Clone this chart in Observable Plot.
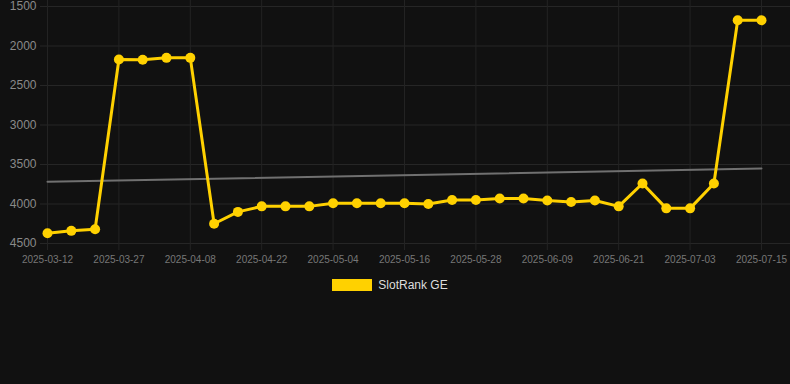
<!DOCTYPE html>
<html>
<head>
<meta charset="utf-8">
<script src="https://cdn.jsdelivr.net/npm/d3@7"></script>
<script src="https://cdn.jsdelivr.net/npm/@observablehq/plot@0.6"></script>
<style>
  html, body { margin: 0; padding: 0; background: #111111; width: 790px; height: 384px; overflow: hidden; }
  body { font-family: "Liberation Sans", Arial, sans-serif; }
  #chart svg { display: block; overflow: visible; }
  #legend { display: flex; justify-content: center; align-items: center; gap: 6px; margin-top: 8px; padding-right: 10px; color: #dddddd; font-size: 12px; }
  #legend .sw { width: 40px; height: 12px; background: #FFD100; display: inline-block; }
</style>
</head>
<body>
<div id="chart"></div>
<div id="legend"><span class="sw"></span><span>SlotRank GE</span></div>
<script>
const dates = [
  "2025-03-12","2025-03-17","2025-03-22","2025-03-27","2025-03-31","2025-04-04","2025-04-08",
  "2025-04-13","2025-04-17","2025-04-22","2025-04-26","2025-04-30","2025-05-04","2025-05-08",
  "2025-05-12","2025-05-16","2025-05-20","2025-05-24","2025-05-28","2025-06-01","2025-06-05",
  "2025-06-09","2025-06-13","2025-06-17","2025-06-21","2025-06-25","2025-06-29","2025-07-03",
  "2025-07-07","2025-07-11","2025-07-15"
];
const ranks = [
  4370, 4340, 4320, 2170, 2175, 2150, 2150,
  4250, 4100, 4030, 4030, 4030, 3990, 3990,
  3990, 3990, 4000, 3950, 3950, 3930, 3930,
  3955, 3975, 3955, 4030, 3740, 4055, 4055,
  3740, 1675, 1675
];
const yTicks = [1500, 2000, 2500, 3000, 3500, 4000, 4500];
const labelEvery = 3;
const seriesName = "SlotRank GE";

const data = ranks.map((v, i) => ({i, date: dates[i], rank: v}));
const xTicks = d3.range(0, dates.length, labelEvery);

// least-squares trend over point index
const n = ranks.length;
const mx = d3.mean(data, d => d.i), my = d3.mean(ranks);
const slope = d3.sum(data, d => (d.i - mx) * (d.rank - my)) / d3.sum(data, d => (d.i - mx) ** 2);
const trend = [0, n - 1].map(i => ({i, rank: my + slope * (i - mx)}));

const chart = Plot.plot({
  width: 790,
  height: 270,
  marginTop: 6,
  marginBottom: 27,
  marginLeft: 47,
  marginRight: 29,
  style: {background: "#111111", fontFamily: "Liberation Sans, Arial, sans-serif"},
  x: {domain: [0, n - 1]},
  y: {domain: [1500, 4500], reverse: true},
  marks: [
    Plot.ruleY(yTicks, {stroke: "#262626", strokeWidth: 1, insetLeft: -7, insetRight: -29}),
    Plot.ruleX(xTicks, {stroke: "#232323", strokeWidth: 1, insetTop: -6, insetBottom: -7}),
    Plot.axisY({ticks: yTicks, tickSize: 0, tickPadding: 11, fontSize: 12, color: "#8a8a8a", label: null, tickFormat: d => String(d)}),
    Plot.axisX({ticks: xTicks, tickSize: 0, tickPadding: 12, fontSize: 10, color: "#777777", label: null, tickFormat: i => dates[i]}),
    Plot.line(trend, {x: "i", y: "rank", stroke: "#707070", strokeWidth: 2}),
    Plot.line(data, {x: "i", y: "rank", stroke: "#FFD100", strokeWidth: 3}),
    Plot.dot(data, {x: "i", y: "rank", r: 5, fill: "#FFD100", stroke: "none"})
  ]
});
document.getElementById("chart").appendChild(chart);
document.querySelector("#legend span:last-child").textContent = seriesName;
</script>
</body>
</html>
